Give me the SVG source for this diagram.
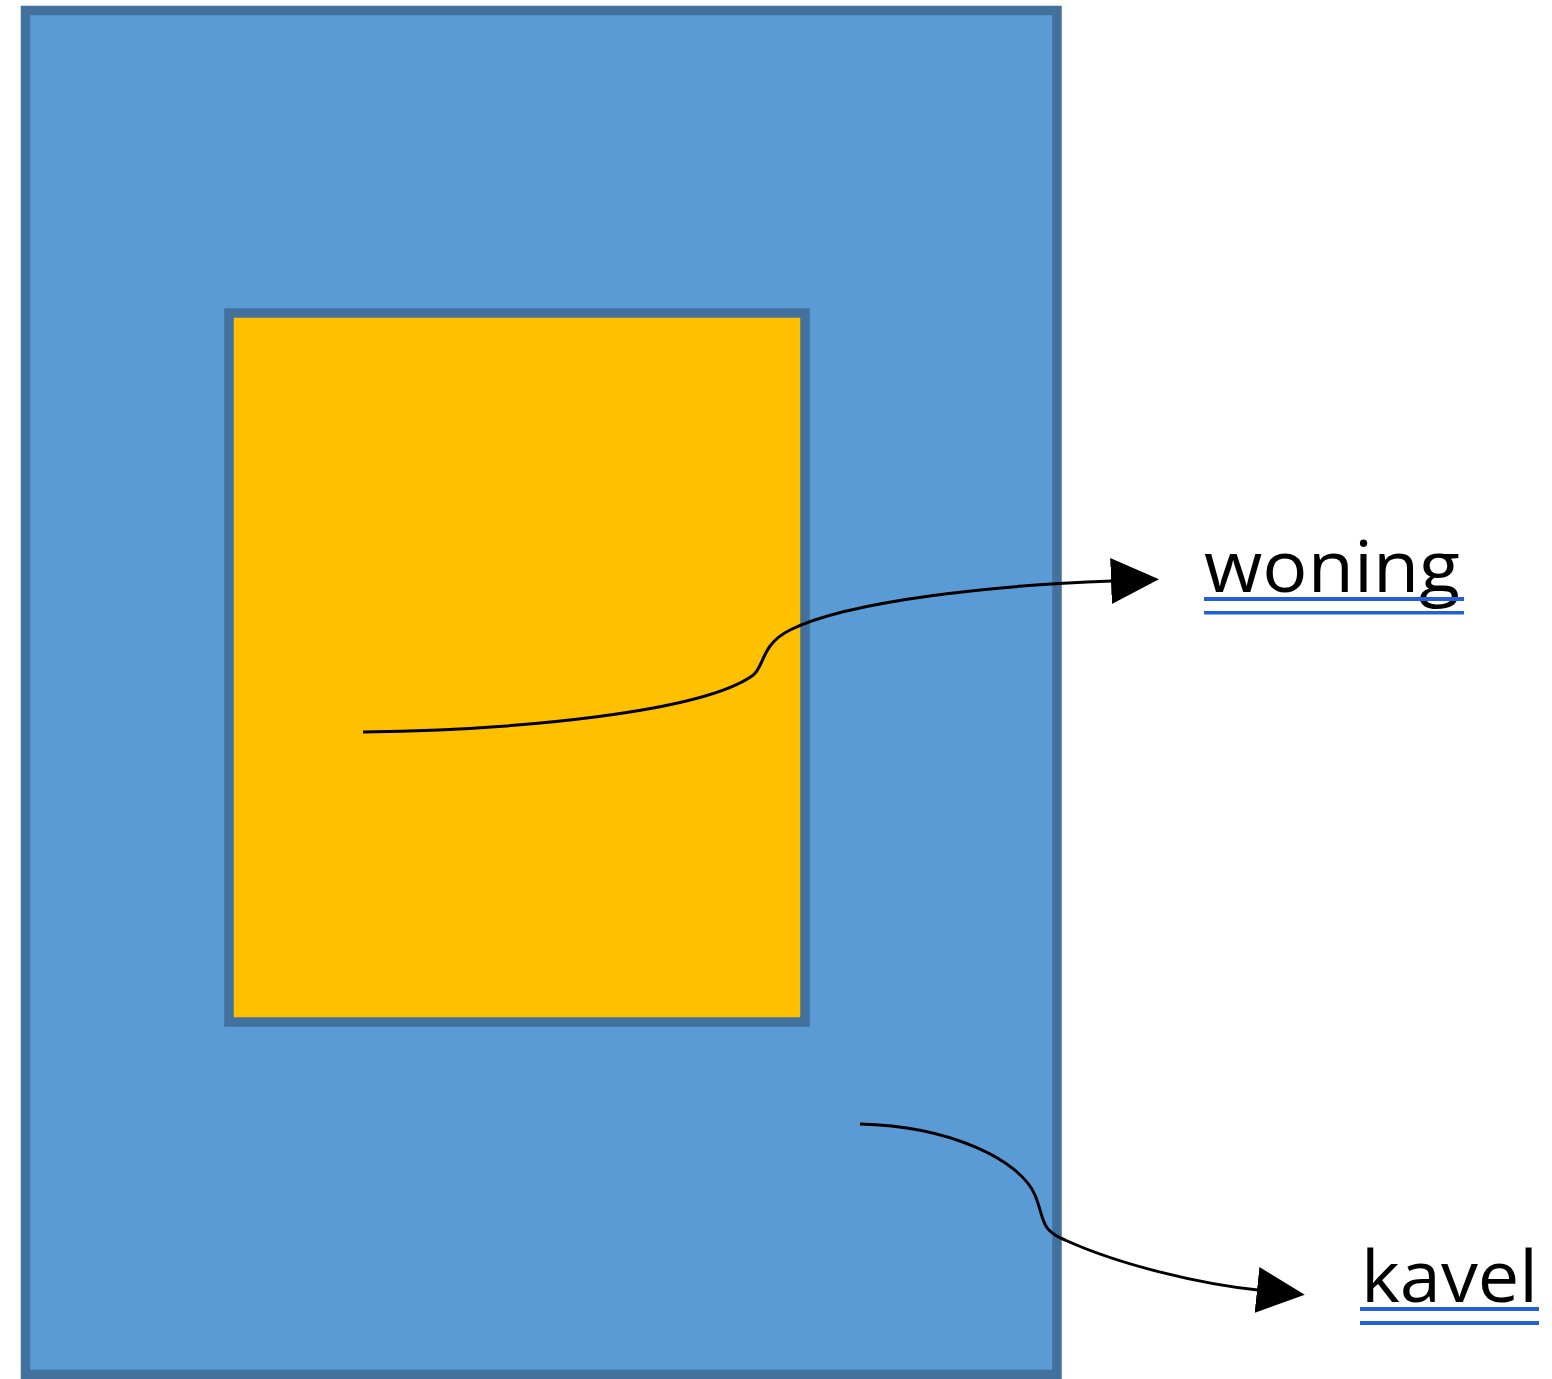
<svg xmlns="http://www.w3.org/2000/svg" width="1552" height="1379" viewBox="0 0 1552 1379">
<defs>
<style>
.shape{stroke:#41719C;stroke-width:9.5}
.conn{fill:none;stroke:#000;stroke-width:3}
.lbl{font-family:"Open Sans","Liberation Sans",sans-serif;font-size:72px;fill:#000}
.ul{fill:#2160D8}
</style>
<marker id="ah" viewBox="0 0 48 46" refX="1" refY="23" markerWidth="48" markerHeight="46" markerUnits="userSpaceOnUse" orient="auto">
<polygon points="0,0 48,23 0,46" fill="#000"/>
</marker>
</defs>
<g id="kavel-plot">
<rect class="shape" x="25.5" y="10.5" width="1031.5" height="1364" fill="#5B9BD5"/>
</g>
<g id="woning-house">
<rect class="shape" x="229" y="313" width="576" height="709" fill="#FFC000"/>
</g>
<g id="connectors">
<path class="conn" d="M363,732 C520,730 700,712 752,676 C765,667 760,645 790,630 C850,600 1000,585 1112,581" marker-end="url(#ah)"/>
<path class="conn" d="M860,1124 C950,1126 1020,1160 1035,1195 C1045,1220 1040,1230 1065,1240 C1120,1265 1200,1284 1258,1290" marker-end="url(#ah)"/>
</g>
<g id="label-woning">
<text class="lbl" x="1204" y="592" textLength="256" lengthAdjust="spacingAndGlyphs">woning</text>
<rect class="ul" x="1204" y="597" width="260" height="4"/>
<rect class="ul" x="1204" y="611" width="260" height="3.5"/>
</g>
<g id="label-kavel">
<text class="lbl" x="1361" y="1302" textLength="177" lengthAdjust="spacingAndGlyphs">kavel</text>
<rect class="ul" x="1360" y="1307" width="179" height="4"/>
<rect class="ul" x="1360" y="1321" width="179" height="4"/>
</g>
</svg>
